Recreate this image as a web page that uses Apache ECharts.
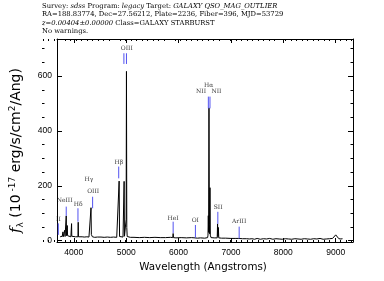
<!DOCTYPE html>
<html>
<head>
<meta charset="utf-8">
<script src="https://cdn.jsdelivr.net/npm/echarts@6/dist/echarts.min.js"></script>
<style>
html,body{margin:0;padding:0;background:#fff;}
#chart{width:384px;height:281px;}
</style>
</head>
<body>
<div id="chart"></div>
<script>
// ---- spectrum (wavelength in Angstroms, flux in 1e-17 erg/s/cm^2/Ang) ----
const specWave = [3740,3760,3780,3790,3794,3798,3815,3822,3828,3834,3848,3856,3862,3870,3876,3882,3895,3920,3945,3954,3958,3962,3980,4000,4030,4060,4080,4085,4090,4120,4160,4200,4250,4290,4322,4329,4336,4345,4350,4356,4370,4400,4450,4474,4480,4486,4520,4580,4640,4700,4760,4820,4858,4866,4874,4900,4940,4954,4961,4968,4990,5000,5006,5012,5020,5040,5080,5150,5250,5350,5450,5550,5650,5750,5850,5890,5897,5904,5950,6050,6150,6250,6314,6322,6330,6358,6364,6370,6420,6500,6555,6562,6568,6574,6581,6588,6594,6600,6606,6620,6680,6738,6745,6752,6760,6768,6820,6900,7000,7080,7150,7157,7164,7220,7300,7350,7400,7450,7500,7560,7620,7680,7740,7800,7860,7920,7980,8040,8100,8160,8220,8280,8340,8400,8460,8520,8580,8640,8700,8760,8820,8880,8940,9000,9060,9100,9130,9136,9142,9170,9200,9240];
const specFlux = [14,12,16,14,32,14,15,14,38,15,16,90,18,17,55,18,16,15,14,16,62,16,14,13,14,13,14,67,14,13,14,13,14,13,15,120,22,15,20,14,13,12,13,12,19,12,13,12,13,12,13,12,14,217,15,14,13,15,216,16,15,78,617,48,15,13,12,12,11,12,11,12,11,11,12,11,26,11,10,11,10,11,10,16,10,9,13,9,10,9,11,20,91,30,484,60,25,193,20,11,10,10,61,15,48,10,9,9,8,8,8,14,8,7,7,6,7,5,8,5,7,6,8,5,7,6,5,7,6,5,7,6,5,7,6,5,7,6,8,5,6,7,8,21,7,6,7,6];

// ---- emission-line annotations ----
const lineNames      = ['II','NeIII','H\u03b4','H\u03b3','OIII','H\u03b2','OIII','H\u03b1','NII','NII','HeI','OI','SII','ArIII'];
const lineLabelWave  = [3707,3825,4085,4289,4370,4861,5012,6574,6429,6724,5897,6320,6756,7156];
const lineLabelFlux  = [79,148,133,224,178,284,701,565,543,543,81,73,120,69];
const markWave   = [3705,3856,4080,4360,4858,4957,5006,6569,6600,5897,6322,6750,7157];
const markTop    = [63,124,118,160,270,683,683,525,525,69,57,105,51];
const markBottom = [21,90,69,118,227,644,644,482,482,27,11,61,8];

// ---- axes ----
const xMin = 3680, xMax = 9330;
const yMin = -5, yMax = 735;
const xMajor = [4000,5000,6000,7000,8000,9000];
const yMajor = [0,200,400,600];
const xMinor = [];
for (let v = 3700; v <= 9300; v += 100) if (v % 1000 !== 0) xMinor.push(v);
const yMinor = [];
for (let v = 50; v <= 700; v += 50) if (v % 200 !== 0) yMinor.push(v);

const spectrum = specWave.map((w, i) => [w, specFlux[i]]);
const labels = lineLabelWave.map((w, i) => [w, lineLabelFlux[i], lineNames[i]]);
const marks = markWave.map((w, i) => [w, markTop[i], markBottom[i]]);

const lab = {fontFamily: 'Liberation Sans', fontSize: 8.5, color: '#000', formatter: v => String(v)};
function xAx(grid, pos, major, withLabel) {
  return {
    type: 'value', gridIndex: grid, position: pos, min: xMin, max: xMax,
    axisLine: {show: major, onZero: false, lineStyle: {color: '#000', width: 1}},
    axisTick: {show: true, inside: true, length: major ? 4 : 2, customValues: major ? xMajor : xMinor, lineStyle: {color: '#000', width: 1}},
    axisLabel: withLabel ? Object.assign({show: true, margin: 6, customValues: xMajor}, lab) : {show: false},
    splitLine: {show: false}
  };
}
function yAx(grid, pos, major, withLabel) {
  return {
    type: 'value', gridIndex: grid, position: pos, min: yMin, max: yMax,
    axisLine: {show: major, onZero: false, lineStyle: {color: '#000', width: 1}},
    axisTick: {show: true, inside: true, length: major ? 5 : 2.5, customValues: major ? yMajor : yMinor, lineStyle: {color: '#000', width: 1}},
    axisLabel: withLabel ? Object.assign({show: true, margin: 5, customValues: yMajor}, lab) : {show: false},
    splitLine: {show: false}
  };
}

const xAxes = [xAx(0, 'bottom', true, true), xAx(0, 'top', true, false), xAx(1, 'bottom', false, false), xAx(1, 'top', false, false)];
xAxes[0].name = 'Wavelength (Angstroms)';
xAxes[0].nameLocation = 'middle';
xAxes[0].nameGap = 16;
xAxes[0].nameTextStyle = {fontFamily: 'DejaVu Sans', fontSize: 10.3, color: '#000', padding: [0, 4, 0, 0]};

const yAxes = [yAx(0, 'left', true, true), yAx(0, 'right', true, false), yAx(1, 'left', false, false), yAx(1, 'right', false, false)];
yAxes[0].name = '{f|f}{sub|\u03bb}{t| (10}{sup| -17}{t| erg/s/cm}{sup|2}{t|/Ang)}';
yAxes[0].nameLocation = 'middle';
yAxes[0].nameGap = 32;
yAxes[0].nameRotate = 90;
yAxes[0].nameTextStyle = {
  color: '#000', padding: [0, 20, 0, 0],
  rich: {
    f: {fontFamily: 'DejaVu Serif', fontStyle: 'italic', fontSize: 15, color: '#000', lineHeight: 17},
    t: {fontFamily: 'DejaVu Sans', fontSize: 14, color: '#000', lineHeight: 17},
    sub: {fontFamily: 'DejaVu Sans', fontSize: 9, color: '#000', verticalAlign: 'bottom', lineHeight: 17},
    sup: {fontFamily: 'DejaVu Sans', fontSize: 9, color: '#000', verticalAlign: 'top', lineHeight: 17}
  }
};

const rs = {fontFamily: 'DejaVu Serif', fontSize: 6.8, fontWeight: 'normal', lineHeight: 8.4, color: '#000'};
const ri = Object.assign({}, rs, {fontStyle: 'italic'});

const gridBox = {left: 42, right: 31, top: 39, bottom: 39, containLabel: false};

const chart = echarts.init(document.getElementById('chart'), null, {renderer: 'canvas'});
chart.setOption({
  animation: false,
  backgroundColor: '#fff',
  title: {
    left: 42, top: 2, padding: 0,
    text: '{n|Survey: }{i|sdss}{n| Program: }{i|legacy}{n| Target: }{i|GALAXY QSO_MAG_OUTLIER}\n' +
          '{n|RA=188.83774, Dec=27.56212, Plate=2236, Fiber=396, MJD=53729}\n' +
          '{i|z=0.00404\u00b10.00000}{n| Class=GALAXY STARBURST}\n' +
          '{n|No warnings.}',
    textStyle: {fontWeight: 'normal', rich: {n: rs, i: ri}}
  },
  grid: [Object.assign({}, gridBox), Object.assign({}, gridBox)],
  xAxis: xAxes,
  yAxis: yAxes,
  series: [
    {
      type: 'line', data: spectrum, xAxisIndex: 0, yAxisIndex: 0,
      showSymbol: false, symbol: 'none', sampling: 'none', clip: true,
      lineStyle: {color: '#000', width: 1}, silent: true, z: 3
    },
    {
      type: 'custom', data: marks, xAxisIndex: 0, yAxisIndex: 0, silent: true, z: 4,
      encode: {x: 0, y: [1, 2]},
      renderItem: function (params, api) {
        const p1 = api.coord([api.value(0), api.value(1)]);
        const p2 = api.coord([api.value(0), api.value(2)]);
        return {type: 'line', shape: {x1: p1[0], y1: p1[1], x2: p2[0], y2: p2[1]},
                style: {stroke: '#5252f0', lineWidth: 1}};
      }
    },
    {
      type: 'scatter', data: labels, xAxisIndex: 0, yAxisIndex: 0, silent: true,
      symbolSize: 0, z: 5,
      label: {show: true, position: 'inside', formatter: p => p.data[2],
              fontFamily: 'DejaVu Serif', fontSize: 6, color: '#000'}
    }
  ]
});
</script>
</body>
</html>
